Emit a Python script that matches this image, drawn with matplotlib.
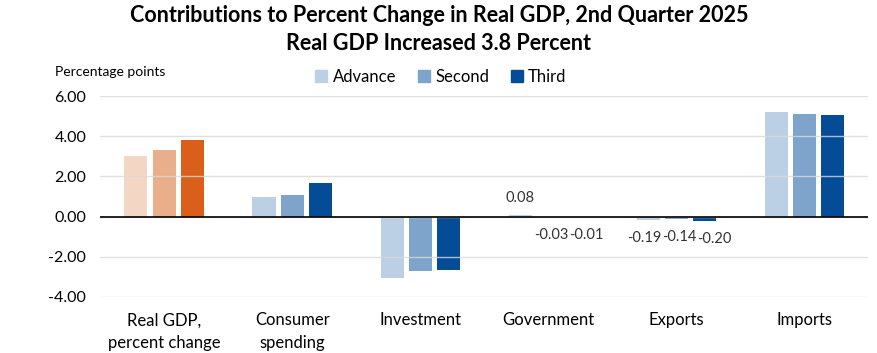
import numpy as np
import matplotlib.pyplot as plt
from matplotlib.patches import Patch

plt.rcParams['font.family'] = ['Lato', 'DejaVu Sans']

# --- DATA ---
categories = ["Real GDP,\npercent change", "Consumer\nspending", "Investment",
              "Government", "Exports", "Imports"]
series_names = ["Advance", "Second", "Third"]
advance = [3.00, 0.98, -3.06, 0.08, -0.19, 5.18]
second = [3.30, 1.07, -2.69, -0.03, -0.14, 5.09]
third = [3.80, 1.68, -2.65, -0.01, -0.20, 5.03]
yticks = [-4, -2, 0, 2, 4, 6]
labelled = ["Government", "Exports"]

blues = ["#bcd0e5", "#7fa4cb", "#054c97"]
oranges = ["#f4d6c4", "#e9ae8a", "#d95f1b"]

# --- PLOT ---
fig = plt.figure(figsize=(8.78, 3.53), dpi=100)
ax = fig.add_axes([0.114, 0.159, 0.875, 0.569])

x = np.arange(len(categories))
w = 0.18
step = 0.22
label_shift = [-3, 2, 7]  # points, spread the small labels apart
for i, vals in enumerate([advance, second, third]):
    cols = [oranges[i]] + [blues[i]] * (len(categories) - 1)
    bars = ax.bar(x + (i - 1) * step, vals, w, color=cols, zorder=1)
    for j, b in enumerate(bars):
        if categories[j] not in labelled:
            continue
        v = vals[j]
        cx = b.get_x() + w / 2
        if v >= 0:
            ax.annotate(f"{v:.2f}", (cx, v), xytext=(0, 7),
                        textcoords='offset points', ha='center', va='bottom',
                        fontsize=10.5, color='#333333')
        else:
            ax.annotate(f"{v:.2f}", (cx, v), xytext=(label_shift[i], -8),
                        textcoords='offset points', ha='center', va='top',
                        fontsize=10.5, color='#333333')

ax.set_xlim(-0.5, len(categories) - 0.5)
ax.set_ylim(-4, 6)
ax.set_yticks(yticks)
ax.set_yticklabels([f"{t:.2f}" for t in yticks], fontsize=11.5)
ax.set_xticks(x)
ax.set_xticklabels(categories, fontsize=12, linespacing=1.5)
ax.tick_params(length=0, pad=10)
ax.tick_params(axis='x', pad=11)
ax.yaxis.grid(True, color='#d9d9d9', linewidth=1, zorder=2, alpha=0.8)
ax.set_axisbelow(False)
ax.axhline(0, color='black', linewidth=1.2, zorder=3)
for s in ax.spines.values():
    s.set_visible(False)

fig.text(0.5, 0.985, "Contributions to Percent Change in Real GDP, 2nd Quarter 2025\nReal GDP Increased 3.8 Percent",
         ha='center', va='top', fontsize=15.5, fontweight='bold', linespacing=1.4)
fig.text(0.063, 0.795, "Percentage points", fontsize=10, ha='left', va='center')

handles = [Patch(color=c, label=n) for c, n in zip(blues, series_names)]
fig.legend(handles=handles, loc='center', bbox_to_anchor=(0.502, 0.782), ncol=3, frameon=False,
           fontsize=12, handlelength=0.75, handleheight=0.75, handletextpad=0.3,
           columnspacing=1.3)

fig.savefig("out.png", dpi=100)
